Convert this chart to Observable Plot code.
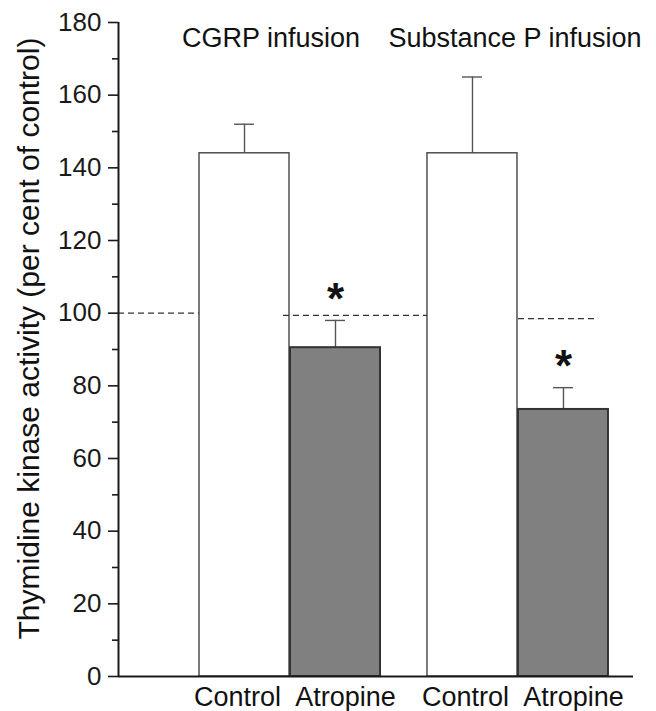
<!DOCTYPE html>
<html>
<head>
<meta charset="utf-8">
<script src="https://cdn.jsdelivr.net/npm/d3@7"></script>
<script src="https://cdn.jsdelivr.net/npm/@observablehq/plot@0.6"></script>
<style>
  html, body { margin: 0; padding: 0; background: #fff; }
</style>
</head>
<body>
<div id="chart"></div>
<script>
// ---- Data ----
const groups = ["CGRP infusion", "Substance P infusion"];
const treatments = ["Control", "Atropine"];
const meanValues = [144, 90.5, 144, 73.5];      // group-major order
const errorTops = [152, 98, 165, 79.5];         // mean + SEM
const significant = [false, true, false, true];
const controlLevels = [100, 99.4, 98.5];        // dashed 100 % reference segments
const yTicks = [0, 20, 40, 60, 80, 100, 120, 140, 160, 180];
const yMinorTicks = [10, 30, 50, 70, 90, 110, 130, 150, 170];
const yTitle = "Thymidine kinase activity (per cent of control)";

// ---- Layout (in bar-width units along x) ----
const barW = 1, innerGap = 0.011, groupStart = [0.9, 3.433], xMax = 5.722, capHalf = 0.111;

const bars = [];
groups.forEach((g, gi) => treatments.forEach((t, ti) => {
  const i = gi * 2 + ti;
  const x1 = groupStart[gi] + ti * (barW + innerGap);
  bars.push({group: g, treatment: t, ti, x1, x2: x1 + barW, xc: x1 + barW / 2,
             mean: meanValues[i], top: errorTops[i], sig: significant[i]});
}));
const groupInfo = groups.map((g, gi) => ({name: g, xc: (bars[gi * 2].x1 + bars[gi * 2 + 1].x2) / 2}));
const segs = [
  {x1: 0, x2: bars[0].x1, y: controlLevels[0]},
  {x1: bars[0].x2 - 0.067, x2: bars[2].x1, y: controlLevels[1]},
  {x1: bars[3].x1, x2: bars[3].x2 - 0.11, y: controlLevels[2]}
];

const ink = "#1a1a1a";
const chart = Plot.plot({
  width: 656,
  height: 711,
  marginLeft: 118,
  marginRight: 23,
  marginTop: 22,
  marginBottom: 35,
  style: {fontFamily: "'Liberation Sans', Arial, Helvetica, sans-serif", color: ink, background: "#fff"},
  x: {domain: [0, xMax], axis: null},
  y: {domain: [0, 180], axis: null},
  marks: [
    // error bars
    Plot.ruleX(bars, {x: "xc", y1: "mean", y2: "top", stroke: "#555", strokeWidth: 1.4}),
    Plot.ruleY(bars, {y: "top", x1: d => d.xc - capHalf, x2: d => d.xc + capHalf, stroke: "#555", strokeWidth: 1.4}),
    // bars
    Plot.rect(bars.filter(d => d.ti === 0), {x1: "x1", x2: "x2", y1: 0, y2: "mean", fill: "#fff", stroke: "#444", strokeWidth: 1.4}),
    Plot.rect(bars.filter(d => d.ti === 1), {x1: "x1", x2: "x2", y1: 0, y2: "mean", fill: "#808080", stroke: "#333", strokeWidth: 2}),
    // dashed 100 % line
    Plot.ruleY(segs, {y: "y", x1: "x1", x2: "x2", stroke: "#333", strokeWidth: 1.3, strokeDasharray: "6,4"}),
    // significance
    Plot.text(bars.filter(d => d.sig), {x: "xc", y: "top", text: () => "*", fontSize: 44, fontWeight: "bold",
      lineAnchor: "middle", dy: -21, fill: "#111"}),
    // axes
    Plot.axisY({ticks: yTicks, tickSize: 10, tickPadding: 7, fontSize: 26, label: null, strokeWidth: 1.6}),
    Plot.axisY({ticks: yMinorTicks, tickSize: 6, tickFormat: () => "", label: null, strokeWidth: 1.6}),
    Plot.ruleX([0], {stroke: ink, strokeWidth: 2}),
    Plot.ruleY([0], {stroke: ink, strokeWidth: 2}),
    // x labels
    Plot.text(bars.filter(d => d.ti === 0), {x: "xc", y: 0, text: "treatment", lineAnchor: "top", dy: 10, dx: -7, fontSize: 27, fill: "#111"}),
    Plot.text(bars.filter(d => d.ti === 1), {x: "xc", y: 0, text: "treatment", lineAnchor: "top", dy: 10, dx: 10, fontSize: 27, fill: "#111"}),
    // group titles
    Plot.text([groupInfo[0]], {x: "xc", text: "name", frameAnchor: "top", lineAnchor: "bottom", dy: 24.5, dx: -19, fontSize: 27, fill: "#111"}),
    Plot.text([groupInfo[1]], {x: "xc", text: "name", frameAnchor: "top", lineAnchor: "bottom", dy: 24.5, dx: -3, fontSize: 27, fill: "#111"}),
    // y title
    Plot.text([yTitle], {text: d => d, frameAnchor: "left", rotate: -90, dx: -89, dy: -11, fontSize: 30,
      lineAnchor: "middle", textAnchor: "middle", fill: "#111"})
  ]
});
document.getElementById("chart").appendChild(chart);
</script>
</body>
</html>
